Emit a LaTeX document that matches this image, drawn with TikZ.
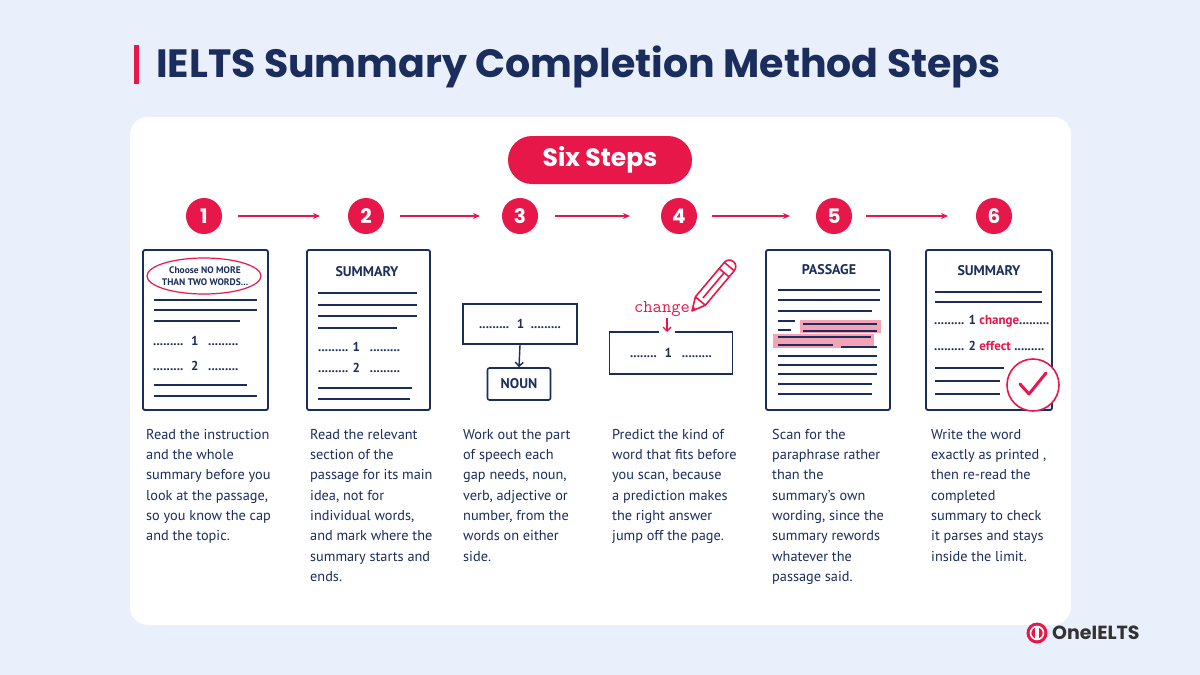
\documentclass[tikz,border=0pt]{standalone}
\usepackage{fontspec}
\setmainfont{PT Sans}
\newfontfamily\pop{Poppins}
\usetikzlibrary{arrows.meta}
\definecolor{bg}{HTML}{E9F0FB}
\definecolor{navy}{HTML}{1B2D5C}
\definecolor{red}{HTML}{E8174A}
\definecolor{hl}{HTML}{F4A3B5}
\begin{document}
\begin{tikzpicture}[x=1pt,y=-1pt,
  doc/.style={draw=navy,line width=1.8pt,rounded corners=2pt,fill=white},
  ln/.style={navy,line width=1.3pt},
  num/.style={circle,fill=red,minimum size=36pt,inner sep=0,text=white,font=\pop\bfseries\fontsize{20}{20}\selectfont},
  arr/.style={red,line width=1.1pt,-{Stealth[length=7pt,width=6pt]}},
  desc/.style={anchor=north west,align=left,text=navy,font=\fontsize{14.3}{20.3}\selectfont,inner sep=0},
  lab/.style={text=navy,font=\bfseries\fontsize{13}{14}\selectfont,inner sep=0},
  gap/.style={text=navy,font=\bfseries\fontsize{13}{14}\selectfont,inner sep=0}]
\useasboundingbox (0,0) rectangle (1200,675);
\fill[bg] (0,0) rectangle (1200,675);
\fill[red] (134,45) rectangle (139,84);
\node[anchor=west,text=navy,font=\pop\bfseries\fontsize{39.5}{42}\selectfont,inner sep=0] (title) at (156,67) {IELTS Summary Completion Method Steps};
\fill[white,rounded corners=18pt] (130,117) rectangle (1071,625);
\node[fill=red,rounded corners=24pt,minimum width=184pt,minimum height=48pt,text=white,font=\pop\bfseries\fontsize{25}{28}\selectfont] (pill) at (600,160) {Six Steps};
\foreach \i/\x in {1/204,2/366,3/520,4/679,5/834,6/994}{\node[num] (n\i) at (\x,216) {\i};}
\draw[arr] (238,216) -- (320,216);
\draw[arr] (400,216) -- (480,216);
\draw[arr] (555,216) -- (630,216);
\draw[arr] (712,216) -- (790,216);
\draw[arr] (866,216) -- (948,216);
% doc 1
\draw[doc] (143,250) rectangle (268,410);
\draw[red,line width=1.2pt] (204,276) ellipse (57pt and 18pt);
\node[lab,align=center,font=\bfseries\fontsize{9.5}{12}\selectfont] (d1t) at (205,276) {Choose NO MORE\\THAN TWO WORDS...};
\draw[ln] (154,300)--(257,300) (154,310)--(257,310) (154,321)--(240,321) (154,385)--(247,385) (154,396)--(257,396);
\node[gap,anchor=west] (d1a) at (153,341) {......... \ 1 \ \ .........};
\node[gap,anchor=west] (d1b) at (153,366) {......... \ 2 \ \ .........};
% doc 2
\draw[doc] (307,250) rectangle (430,410);
\node[lab,font=\bfseries\fontsize{14}{15}\selectfont] (d2t) at (367,272) {SUMMARY};
\draw[ln] (318,293)--(417,293) (318,305)--(417,305) (318,316)--(417,316) (318,328)--(397,328) (318,388)--(412,388) (318,399)--(410,399);
\node[gap,anchor=west] (d2a) at (318,347) {......... 1 \ \ .........};
\node[gap,anchor=west] (d2b) at (318,368) {......... 2 \ \ .........};
% step 3
\node[draw=navy,line width=1.6pt,minimum width=114pt,minimum height=40pt,gap] (b3) at (520,324) {......... \ 1 \ .........};
\node[draw=navy,line width=1.6pt,rounded corners=2pt,minimum width=63pt,minimum height=32pt,lab,font=\bfseries\fontsize{14}{15}\selectfont] (noun) at (519,384) {NOUN};
\draw[navy,line width=1.4pt,-{Straight Barb[length=4pt]}] (b3.south) -- (noun.north);
% step 4
\node[draw=navy,line width=1.6pt,minimum width=123pt,minimum height=42pt,gap] (b4) at (671,353) {........ \ 1 \ \ .........};
\fill[white] (659,329) rectangle (675,336);
\node[text=red,font=\ttfamily\fontsize{18}{18}\selectfont,inner sep=0] (ch) at (662,309) {change};
\draw[red,line width=1.3pt,-{Straight Barb[length=4pt]}] (667,318) -- (667,332);
\begin{scope}[shift={(692,311)},rotate=50]
\draw[red,line width=1.6pt,line join=round,fill=white] (0,0) -- (13,-6.5) -- (58,-6.5) -- (58,6.5) -- (13,6.5) -- cycle;
\draw[red,line width=1.6pt] (13,-6.5)--(13,6.5) (58,-6.5) arc (-90:90:6.5) (50,-6.5)--(50,6.5) (17,0)--(50,0);
\fill[red] (0,0) -- (4,-2) -- (4,2) -- cycle;
\end{scope}
% doc 5
\draw[doc] (766,250) rectangle (890,410);
\node[lab,font=\bfseries\fontsize{14}{15}\selectfont] (d5t) at (829,270) {PASSAGE};
\fill[hl] (800,320) rectangle (881,333);
\fill[hl] (773,334) rectangle (874,348);
\draw[ln] (778,290)--(880,290) (778,300)--(880,300) (778,311)--(872,311) (778,321)--(795,321) (778,330)--(791,330)
 (803,324)--(877,324) (803,331)--(877,331) (778,337)--(871,337) (778,345)--(833,345) (841,347)--(877,347)
 (778,356)--(877,356) (778,365)--(877,365) (778,374)--(877,374) (778,384)--(872,384) (778,394)--(872,394);
% doc 6
\draw[doc] (926,250) rectangle (1052,410);
\node[lab,font=\bfseries\fontsize{14}{15}\selectfont] (d6t) at (989,271) {SUMMARY};
\draw[ln] (935,292)--(1042,292) (935,302)--(1042,302) (935,368)--(1004,368) (935,381)--(1000,381) (935,394)--(1000,394);
\node[gap,anchor=west] (d6a) at (934,321) {......... 1 \textcolor{red}{change}.........};
\node[gap,anchor=west] (d6b) at (934,346) {......... 2 \textcolor{red}{effect} .........};
\node[circle,draw=red,line width=1.6pt,fill=white,minimum size=52pt] (chk) at (1033,385) {};
\draw[red,line width=3pt,line cap=round,line join=round] (1020,384) -- (1029,394) -- (1046,373);
% descriptions
\node[desc] (t1) at (146,429) {Read the instruction\\and the whole\\summary before you\\look at the passage,\\so you know the cap\\and the topic.};
\node[desc] (t2) at (310,429) {Read the relevant\\section of the\\passage for its main\\idea, not for\\individual words,\\and mark where the\\summary starts and\\ends.};
\node[desc] (t3) at (463,429) {Work out the part\\of speech each\\gap needs, noun,\\verb, adjective or\\number, from the\\words on either\\side.};
\node[desc] (t4) at (612,429) {Predict the kind of\\word that fits before\\you scan, because\\a prediction makes\\the right answer\\jump off the page.};
\node[desc] (t5) at (772,429) {Scan for the\\paraphrase rather\\than the\\summary's own\\wording, since the\\summary rewords\\whatever the\\passage said.};
\node[desc] (t6) at (931,429) {Write the word\\exactly as printed ,\\then re-read the\\completed\\summary to check\\it parses and stays\\inside the limit.};
% logo
\node[circle,fill=red,minimum size=21pt,inner sep=0] (lg) at (1037,633) {};
\draw[white,line width=1.6pt] (1037,633) circle (6.5pt);
\fill[white] (1035,627) rectangle (1039,639);
\node[anchor=west,text=black!80,font=\pop\bfseries\fontsize{19}{20}\selectfont,inner sep=0] (lgt) at (1052,633) {OneIELTS};
\end{tikzpicture}
\end{document}
